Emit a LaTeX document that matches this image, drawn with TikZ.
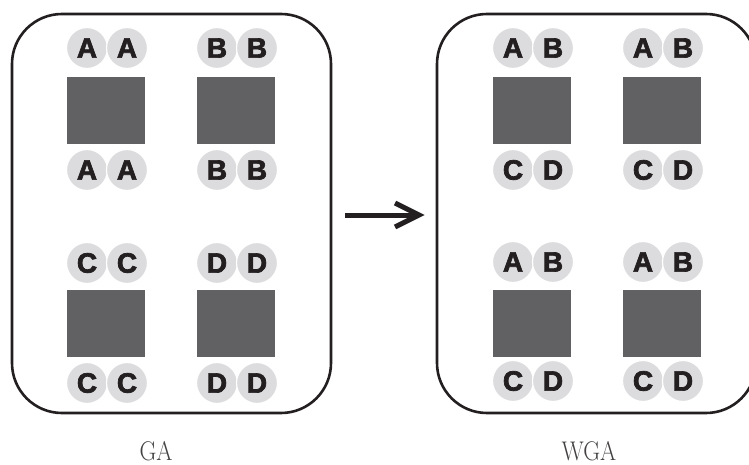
\documentclass[tikz,border=0pt]{standalone}
\usepackage{fontspec}
\newfontfamily\lettersf{Liberation Sans Bold}[FakeBold=2.5]
\definecolor{panelink}{HTML}{231F20}
\definecolor{chipgray}{HTML}{DCDCDE}
\definecolor{blockgray}{HTML}{616163}
\begin{document}
\begin{tikzpicture}[x=1pt,y=-1pt,
  panel/.style={draw=panelink,line width=2.6pt,rounded corners=50pt},
  block/.style={fill=blockgray,draw=none,minimum width=78pt,minimum height=67pt,inner sep=0pt},
  chip/.style={circle,fill=chipgray,draw=white,line width=1.2pt,minimum size=41pt,inner sep=0pt,
    text=panelink,font=\lettersf\fontsize{28}{28}\selectfont},
  caption/.style={font=\fontsize{27}{27}\selectfont,text=panelink!85!white,xscale=0.86,inner sep=0pt}]
\useasboundingbox (0,0) rectangle (749,465);

% outer panels (the right one runs past the page edge)
\draw[panel] (12,14) rectangle (331,413);
\draw[panel] (437,14) rectangle (756,413);

% dies and their tags: \chipset{name}{cx}{top y}{block y}{bottom y}{tl}{tr}{bl}{br}
\newcommand{\chipset}[9]{%
  \node[block] (#1) at (#2,#4) {};
  \node[chip] (#1tl) at (#2-19,#3) {#6};
  \node[chip] (#1tr) at (#2+21,#3) {#7};
  \node[chip] (#1bl) at (#2-19,#5) {#8};
  \node[chip] (#1br) at (#2+21,#5) {#9};
}
% left panel
\chipset{la}{106}{48}{110.5}{170}{A}{A}{A}{A}
\chipset{lb}{236}{48}{110.5}{170}{B}{B}{B}{B}
\chipset{lc}{106}{263}{323.5}{383}{C}{C}{C}{C}
\chipset{ld}{236}{263}{323.5}{383}{D}{D}{D}{D}
% right panel
\chipset{ra}{532}{48}{110.5}{170}{A}{B}{C}{D}
\chipset{rb}{662}{48}{110.5}{170}{A}{B}{C}{D}
\chipset{rc}{532}{262}{323.5}{381}{A}{B}{C}{D}
\chipset{rd}{662}{262}{323.5}{381}{A}{B}{C}{D}

% transformation arrow
\coordinate (arrS) at (345,215);
\coordinate (arrE) at (414,215);
\coordinate (arrT) at (419,215);
\coordinate (arrU) at (395,203);
\coordinate (arrL) at (395,227);
\draw[panelink,line width=5pt] (arrS) -- (arrE);
\draw[panelink,line width=5pt,miter limit=10] (arrU) -- (arrT) -- (arrL);

% captions
\node[caption] (capl) at (156,451) {GA};
\node[caption] (capr) at (589,451) {WGA};
\end{tikzpicture}
\end{document}
